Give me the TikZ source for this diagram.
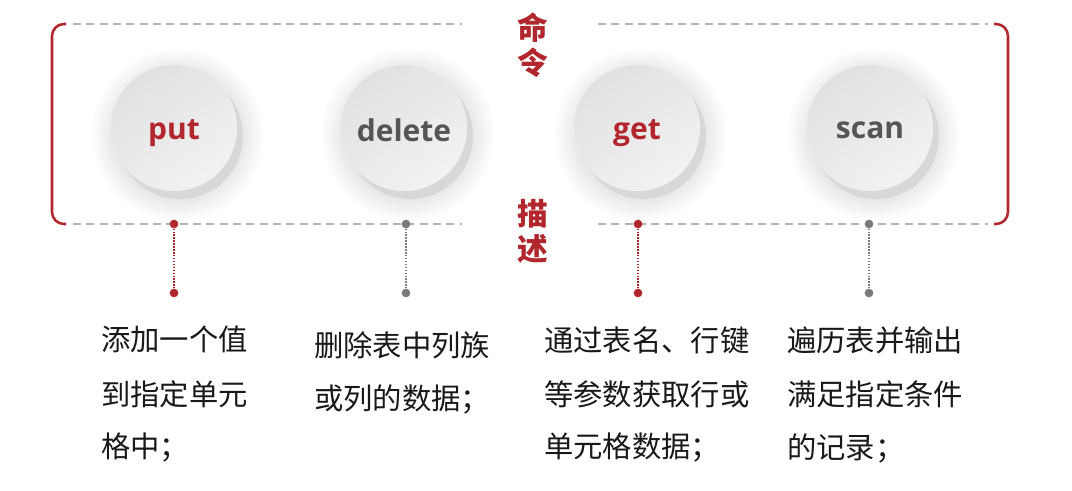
\documentclass[tikz,border=0pt]{standalone}
\usepackage{fontspec}
\setmainfont{Noto Sans CJK SC}
\newfontfamily\cjk{Noto Sans CJK SC}
\newfontfamily\ballfont{Open Sans}
\definecolor{hred}{RGB}{178,38,46}
\definecolor{hgray}{RGB}{85,85,85}
\definecolor{dgray}{RGB}{122,122,122}
\definecolor{dashgray}{RGB}{178,178,178}
\definecolor{txt}{RGB}{25,25,25}
\definecolor{facea}{RGB}{225,225,225}
\definecolor{faceb}{RGB}{242,242,242}
\definecolor{backc}{RGB}{216,216,216}
\newcommand{\balltext}[1]{\raisebox{-2.5pt}{#1}}
\begin{document}
\begin{tikzpicture}[x=0.75pt,y=-0.75pt,
  halo/.style={fill=black, opacity=0.011},
  ballback/.style={fill=backc},
  ball/.style={circle, minimum size=94.5pt, inner sep=0pt, shading=axis, top color=facea, bottom color=faceb, shading angle=35,
    text depth=0pt, font=\ballfont\bfseries\fontsize{22.5}{24}\selectfont},
  dashline/.style={draw=dashgray, line width=0.8pt, dash pattern=on 6pt off 4pt},
  bracket/.style={draw=hred, line width=1.9pt, rounded corners=9pt},
  rdot/.style={circle, fill=hred, minimum size=6.5pt, inner sep=0pt},
  gdot/.style={circle, fill=dgray, minimum size=6.5pt, inner sep=0pt},
  rdotted/.style={draw=hred, line width=1.5pt, dash pattern=on 1.1pt off 1.1pt},
  gdotted/.style={draw=dgray, line width=1.5pt, dash pattern=on 1.1pt off 1.1pt},
  vlabel/.style={text=hred, inner sep=0pt, font=\cjk\bfseries\fontsize{23}{24}\selectfont},
  desc/.style={anchor=west, inner sep=0pt, text=txt, font=\cjk\fontsize{22}{24}\selectfont}
]
\useasboundingbox (0,0) rectangle (1072,490);
\fill[white] (0,0) rectangle (1072,490);

% dashed frame lines
\coordinate (tl1) at (73,24); \coordinate (tr1) at (462,24);
\coordinate (tl2) at (598,24); \coordinate (tr2) at (988,24);
\coordinate (bl1) at (73,224); \coordinate (br1) at (462,224);
\coordinate (bl2) at (598,224); \coordinate (br2) at (988,224);
\draw[dashline] (tl1) -- (tr1);
\draw[dashline] (tl2) -- (tr2);
\draw[dashline] (bl1) -- (br1);
\draw[dashline] (bl2) -- (br2);

% brackets
\coordinate (lbt) at (66,24); \coordinate (lbb) at (66,224);
\coordinate (rbt) at (994,24); \coordinate (rbb) at (994,224);
\draw[bracket] (lbt) -- (52,24) -- (52,224) -- (lbb);
\draw[bracket] (rbt) -- (1008,24) -- (1008,224) -- (rbb);

% balls
\coordinate (c1) at (174,128);
\coordinate (c2) at (404,128);
\coordinate (c3) at (637,128);
\coordinate (c4) at (870,128);
\foreach \c in {c1,c2,c3,c4}{
  \foreach \r in {86,83,...,64}{
    \fill[halo] ([shift={(4,7)}]\c) circle[radius=\r*0.75pt];
  }
  \fill[ballback] ([shift={(6,8)}]\c) circle[radius=47.25pt];
}
\node[ball, text=hred] (put) at (c1) {\balltext{put}};
\node[ball, text=hgray] (delete) at (c2) {\balltext{delete}};
\node[ball, text=hred] (get) at (c3) {\balltext{get}};
\node[ball, text=hgray] (scan) at (c4) {\balltext{scan}};

% vertical labels
\node[vlabel] (m1) at (533,28) {命};
\node[vlabel] (m2) at (533,63) {令};
\node[vlabel] (s1) at (533,214) {描};
\node[vlabel] (s2) at (533,249) {述};

% connectors
\node[rdot] (d1a) at (174,224) {};
\node[rdot] (d1b) at (174,293) {};
\node[gdot] (d2a) at (406,224) {};
\node[gdot] (d2b) at (406,293) {};
\node[rdot] (d3a) at (638,224) {};
\node[rdot] (d3b) at (638,293) {};
\node[gdot] (d4a) at (869,224) {};
\node[gdot] (d4b) at (869,293) {};
\draw[rdotted] (d1a) -- (d1b);
\draw[gdotted] (d2a) -- (d2b);
\draw[rdotted] (d3a) -- (d3b);
\draw[gdotted] (d4a) -- (d4b);

% descriptions
\node[desc] (t1a) at (101,339) {添加一个值};
\node[desc] (t1b) at (101,394) {到指定单元};
\node[desc] (t1c) at (101,448) {格中；};
\node[desc] (t2a) at (314,345) {删除表中列族};
\node[desc] (t2b) at (314,399) {或列的数据；};
\node[desc] (t3a) at (544,340) {通过表名、行键};
\node[desc] (t3b) at (544,394) {等参数获取行或};
\node[desc] (t3c) at (544,448) {单元格数据；};
\node[desc] (t4a) at (787,340) {遍历表并输出};
\node[desc] (t4b) at (787,394) {满足指定条件};
\node[desc] (t4c) at (787,448) {的记录；};
\end{tikzpicture}
\end{document}
